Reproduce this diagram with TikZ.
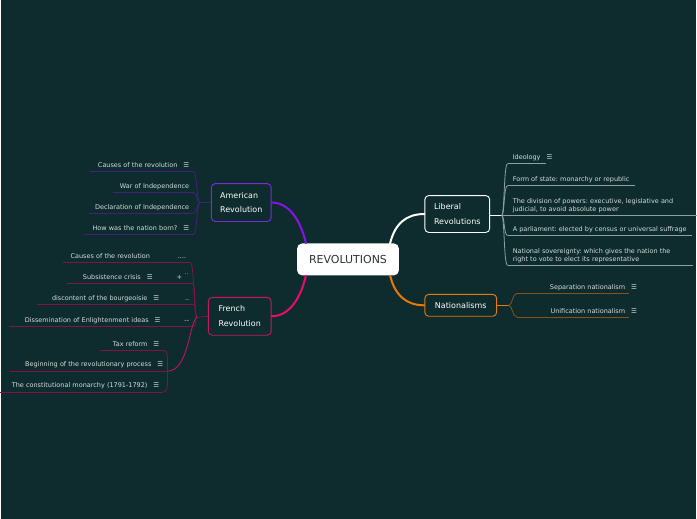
\documentclass[tikz,border=0pt]{standalone}
\usepackage{fontspec}
\setmainfont{DejaVu Sans}
\frenchspacing
\definecolor{bgteal}{HTML}{0E2C2E}
\definecolor{leaftext}{HTML}{D5DCDC}
\definecolor{rootink}{HTML}{2E3436}
\definecolor{amerc}{HTML}{8A12E6}
\definecolor{amerbox}{HTML}{7C2BD9}
\definecolor{amerleaf}{HTML}{43207F}
\definecolor{frenc}{HTML}{EC0A70}
\definecolor{frenbox}{HTML}{C8165E}
\definecolor{frenleaf}{HTML}{7E1448}
\definecolor{libleaf}{HTML}{8FA0A0}
\definecolor{natc}{HTML}{E77A0C}
\definecolor{natleaf}{HTML}{8A5214}
\newcommand\leaffont{\fontsize{6.5}{8}\selectfont}
\newcommand\menu{\hspace{6pt}☰}

\begin{document}
\begin{tikzpicture}[x=1pt,y=-1pt,every node/.style={inner sep=0pt},
  topic/.style={draw,rounded corners=4pt,line width=0.9pt,fill=bgteal,text=white,align=left,font=\fontsize{8}{15}\selectfont},
  leaf/.style={font=\leaffont,text=leaftext,inner xsep=4pt,inner ysep=2.5pt,text height=4.8pt,text depth=1.5pt},
  leafml/.style={font=\leaffont,text=leaftext,inner xsep=5pt,inner ysep=2.5pt,align=left},
  trunk/.style={line width=2pt,line cap=round},
  twig/.style={line width=0.8pt}]
  \fill[bgteal] (0,0) rectangle (697,520);

  % main topics
  \node[fill=white,rounded corners=5pt,minimum width=102pt,minimum height=32pt,text=rootink,font=\fontsize{11}{13}\selectfont] (root) at (348,260) {REVOLUTIONS};
  \node[topic,draw=amerbox,minimum width=60pt,minimum height=38pt] (amer) at (241,203) {American\\Revolution};
  \node[topic,draw=frenbox,minimum width=63pt,minimum height=38pt] (french) at (239.5,317) {French\\Revolution};
  \node[topic,draw=white,minimum width=65pt,minimum height=37pt] (liberal) at (457.5,214.5) {Liberal\\Revolutions};
  \node[topic,draw=natc,minimum width=72pt,minimum height=22pt] (nation) at (461,306) {Nationalisms};

  \draw[trunk,amerc] ([xshift=9pt]root.north west) .. controls +(-5,-22) and +(18,0) .. (amer.east);
  \draw[trunk,frenc] ([xshift=9pt]root.south west) .. controls +(-5,22) and +(18,0) .. (french.east);
  \draw[trunk,white] ([xshift=-9pt]root.north east) .. controls +(5,-20) and +(-18,0) .. (liberal.west);
  \draw[trunk,natc] ([xshift=-9pt]root.south east) .. controls +(5,20) and +(-18,0) .. (nation.west);

  % American Revolution
  \node[leaf,anchor=south east,text width=95pt,align=right] (a1) at (193,172) {Causes of the revolution\menu};
  \node[leaf,anchor=south east,text width=72pt,align=right] (a2) at (193,193) {War of Independence};
  \node[leaf,anchor=south east,text width=96pt,align=right] (a3) at (193,214) {Declaration of Independence};
  \node[leaf,anchor=south east,text width=101pt,align=right] (a4) at (193,235) {How was the nation born?\menu};
  \coordinate (ahub) at (200,203);
  \draw[twig,amerleaf] (amer.west) -- (ahub);
  \foreach \n in {a1,a2,a3,a4} {
    \draw[twig,amerleaf] (\n.south west) -- (\n.south east);
    \draw[twig,amerleaf] (ahub) .. controls +(-4,0) and +(4,0) .. (\n.south east);
  }

  % French Revolution
  \node[leaf,anchor=south east,text width=119pt,align=right] (f1) at (190,263) {Causes of the revolution\hspace{28pt}....};
  \node[leaf,anchor=south east,text width=117pt,align=right] (f2) at (192,284) {Subsistence crisis\menu\hspace{24pt}+\hspace{3pt}\raisebox{3pt}{\fontsize{4}{4}\selectfont '\,'}};
  \node[leaf,anchor=south east,text width=148pt,align=right] (f3) at (193,305) {discontent of the bourgeoisie\menu\hspace{26pt}..};
  \node[leaf,anchor=south east,text width=176pt,align=right] (f4) at (193,327) {Dissemination of Enlightenment ideas\menu\hspace{24pt}-{}-};
  \node[leaf,anchor=south east,text width=149pt,align=right] (f5) at (167,372) {Beginning of the revolutionary process\menu};
  \node[leaf,anchor=south east,text width=55pt,align=right] (f6) at (163,351) {Tax reform\menu};
  \node[leaf,anchor=south east,text width=155pt,align=right] (f7) at (163,393) {The constitutional monarchy (1791-1792)\menu};
  \coordinate (fhub) at (197,318);
  \draw[twig,frenleaf] (french.west) -- (fhub);
  \foreach \n in {f1,f2,f3,f4,f5,f6,f7}
    \draw[twig,frenleaf] (\n.south west) -- (\n.south east);
  \foreach \n in {f1,f2,f3,f4}
    \draw[twig,frenleaf] (fhub) .. controls +(-4,0) and +(4,0) .. (\n.south east);
  \draw[twig,frenc!80!frenleaf] (fhub) .. controls +(-8,2) and +(22,0) .. (f5.south east);
  \draw[twig,frenleaf] (f6.south east) .. controls +(5,0) and +(0,-12) .. (f5.south east)
    .. controls +(0,12) and +(5,0) .. (f7.south east);

  % Liberal Revolutions
  \node[leaf,anchor=south west,inner xsep=5pt] (l1) at (508,164) {Ideology\rlap{\menu}};
  \node[leaf,anchor=south west,inner xsep=5pt] (l2) at (508,186) {Form of state: monarchy or republic};
  \node[leafml,anchor=south west,text width=179pt] (l3) at (508,216) {The division of powers: executive, legislative and\\judicial, to avoid absolute power};
  \node[leaf,anchor=south west,inner xsep=5pt] (l4) at (508,236) {A parliament: elected by census or universal suffrage};
  \node[leafml,anchor=south west,text width=175pt] (l5) at (508,266) {National sovereignty: which gives the nation the\\right to vote to elect its representative};
  \coordinate (lhub) at (502,216);
  \draw[twig,white] (liberal.east |- lhub) -- (lhub);
  \foreach \n in {l1,l2,l3,l4,l5} {
    \draw[twig,libleaf] (\n.south west) -- (\n.south east);
    \draw[twig,libleaf] (lhub) .. controls +(3,0) and +(-4,0) .. (\n.south west);
  }

  % Nationalisms
  \node[leaf,anchor=south east,text width=104pt,align=right] (n1) at (630,294) {Separation nationalism\rlap{\menu}};
  \node[leaf,anchor=south east,text width=104pt,align=right] (n2) at (630,318) {Unification nationalism\rlap{\menu}};
  \coordinate (nhub) at (509,306);
  \draw[twig,natc] (nation.east) -- (nhub);
  \foreach \n in {n1,n2} {
    \draw[twig,natleaf] (\n.south west) -- (\n.south east);
    \draw[twig,natleaf] (nhub) .. controls +(4,0) and +(-5,0) .. (\n.south west);
  }
\end{tikzpicture}
\end{document}
